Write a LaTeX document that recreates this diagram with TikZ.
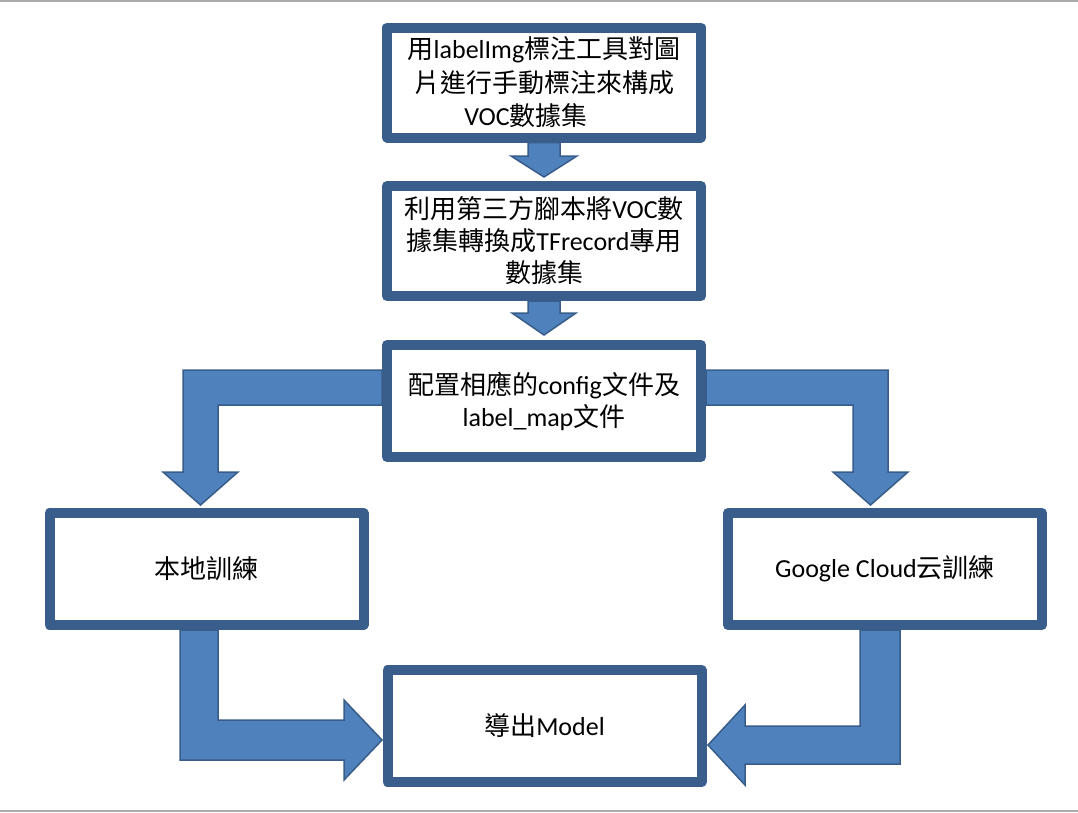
\documentclass[tikz,border=0pt]{standalone}
\usepackage{fontspec}
\setmainfont{Noto Sans CJK TC}
\newfontfamily\latfont{Carlito}
\newcommand\lt[1]{{\latfont #1}}
\usetikzlibrary{calc}
\pgfdeclarelayer{bg}
\pgfsetlayers{bg,main}
\definecolor{boxline}{HTML}{3A5E8C}
\definecolor{arrfill}{HTML}{4F81BD}
\definecolor{arrline}{HTML}{385D8A}
\definecolor{rulegray}{HTML}{ABABAB}
\begin{document}
\begin{tikzpicture}[x=1pt,y=-1pt,
  procbox/.style={draw=boxline, line width=10pt, line join=round, fill=white,
    minimum width=314pt, minimum height=110pt, inner sep=0pt, align=center,
    font=\fontsize{26}{32}\selectfont},
  blockarrow/.style={fill=arrfill, draw=arrline, line width=1.5pt, line join=miter}]
\useasboundingbox (0,0) rectangle (1078,812);
\draw[rulegray, line width=1.5pt] (0,0.75) -- (1078,0.75);
\draw[rulegray, line width=1.5pt] (0,811) -- (1078,811);

\node[procbox, font=\fontsize{26}{33.5}\selectfont] (b1) at (544,82.5) {用\lt{labelImg}標注工具對圖\\片進行手動標注來構成\\\lt{VOC}數據集\hspace*{36pt}};
\node[procbox] (b2) at (544,241) {利用第三方腳本將\lt{VOC}數\\據集轉換成\lt{TFrecord}專用\\數據集};
\node[procbox, minimum height=112pt] (b3) at (544,401) {配置相應的\lt{config}文件及\\\lt{label\_map}文件};
\node[procbox, minimum height=112pt] (b4) at (206.5,569) {本地訓練};
\node[procbox, minimum height=112pt] (b5) at (885,569) {\lt{Google Cloud}云訓練};
\node[procbox, minimum height=112pt] (b6) at (544.5,726) {導出\lt{Model}};

\begin{pgfonlayer}{bg}
% b1 -> b2
\coordinate (t12) at ($(b2.north)+(0,-4)$);
\filldraw[blockarrow] ($(b1.south)+(-16,0)$) -- ($(t12)+(-16,-21)$) -- ($(t12)+(-33,-21)$) -- (t12)
  -- ($(t12)+(33,-21)$) -- ($(t12)+(16,-21)$) -- ($(b1.south)+(16,0)$) -- cycle;
% b2 -> b3
\coordinate (t23) at ($(b3.north)+(0,-5)$);
\filldraw[blockarrow] ($(b2.south)+(-16,0)$) -- ($(t23)+(-16,-22)$) -- ($(t23)+(-32,-22)$) -- (t23)
  -- ($(t23)+(32,-22)$) -- ($(t23)+(16,-22)$) -- ($(b2.south)+(16,0)$) -- cycle;
% b3 -> b4
\coordinate (TL) at ($(b4.north)+(-6,-3)$);
\coordinate (lA) at ($(TL)+(-17.5,-135)$);
\coordinate (lB) at ($(TL)+(17.5,-100)$);
\filldraw[blockarrow] (b3.west |- lA) -- (lA) -- ($(TL)+(-17.5,-33)$) -- ($(TL)+(-37.5,-33)$) -- (TL)
  -- ($(TL)+(37.5,-33)$) -- ($(TL)+(17.5,-33)$) -- (lB) -- (b3.west |- lB) -- cycle;
% b3 -> b5
\coordinate (TR) at ($(b5.north)+(-14.5,-3)$);
\coordinate (rA) at ($(TR)+(17.5,-135)$);
\coordinate (rB) at ($(TR)+(-17.5,-100)$);
\filldraw[blockarrow] (b3.east |- rA) -- (rA) -- ($(TR)+(17.5,-33)$) -- ($(TR)+(37.5,-33)$) -- (TR)
  -- ($(TR)+(-37.5,-33)$) -- ($(TR)+(-17.5,-33)$) -- (rB) -- (b3.east |- rB) -- cycle;
% b4 -> b6
\coordinate (TBL) at ($(b6.west)+(-0.5,14)$);
\coordinate (bA) at ($(TBL)+(-202,20)$);
\coordinate (bB) at ($(TBL)+(-164,-20)$);
\filldraw[blockarrow] (bA |- b4.south) -- (bA) -- ($(TBL)+(-38,20)$) -- ($(TBL)+(-38,40)$) -- (TBL)
  -- ($(TBL)+(-38,-40)$) -- ($(TBL)+(-38,-20)$) -- (bB) -- (bB |- b4.south) -- cycle;
% b5 -> b6
\coordinate (TBR) at ($(b6.east)+(1.5,19)$);
\coordinate (cA) at ($(TBR)+(192,19)$);
\coordinate (cB) at ($(TBR)+(152,-19)$);
\filldraw[blockarrow] (cA |- b5.south) -- (cA) -- ($(TBR)+(37,19)$) -- ($(TBR)+(37,40)$) -- (TBR)
  -- ($(TBR)+(37,-40)$) -- ($(TBR)+(37,-19)$) -- (cB) -- (cB |- b5.south) -- cycle;
\end{pgfonlayer}
\end{tikzpicture}
\end{document}
